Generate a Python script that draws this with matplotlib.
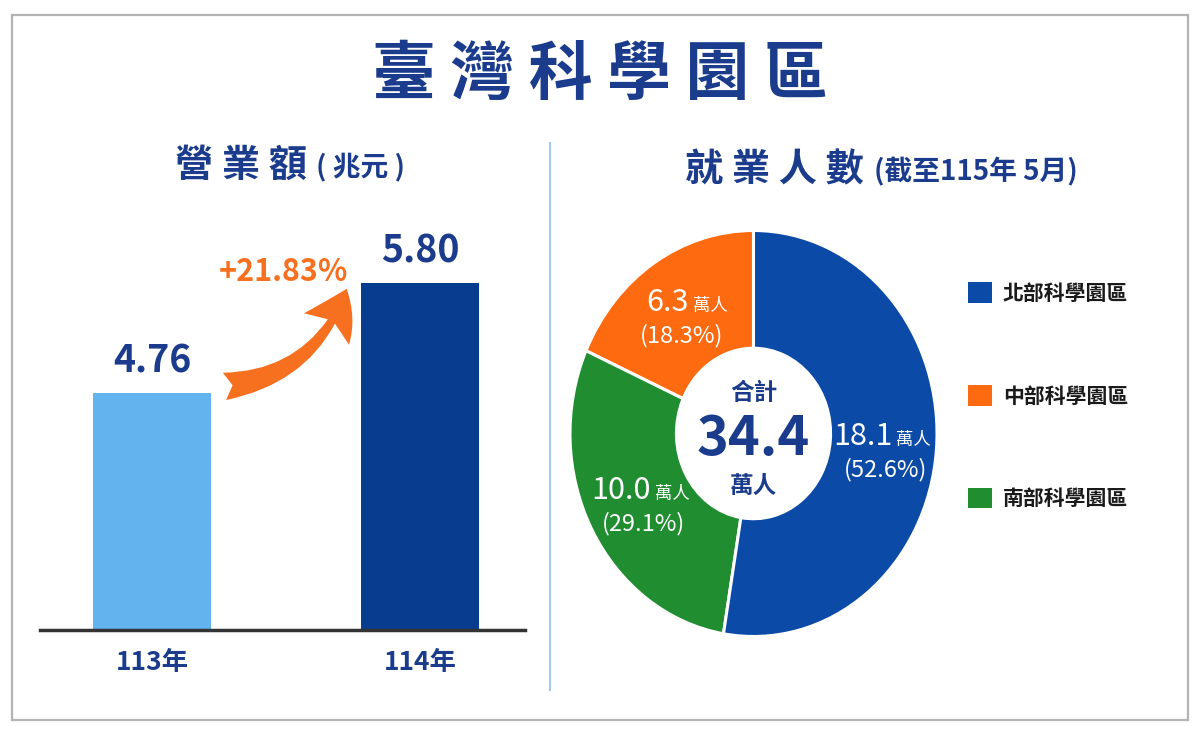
import matplotlib
matplotlib.use('Agg')
import numpy as np
import matplotlib.pyplot as plt
from matplotlib.patches import Patch, Rectangle, FancyArrowPatch
from matplotlib.lines import Line2D

plt.rcParams['font.family'] = ['Noto Sans CJK TC', 'DejaVu Sans']

# Revenue (trillion NTD)
years = ['113年', '114年']
revenue = [4.76, 5.80]
growth_pct = 21.83

# Employment by park (10k people)
parks = ['北部科學園區', '中部科學園區', '南部科學園區']
workers = [18.1, 6.3, 10.0]

NAVY = '#1b3c8c'
bar_colors = ['#63b4ee', '#083c8f']
park_colors = ['#0b4aa6', '#fd6a10', '#1f8d30']
ORANGE = '#f7701f'

fig = plt.figure(figsize=(12, 7.36), dpi=100)
fig.patch.set_facecolor('white')

def fx(px):
    return px / 1200

def fy(py):
    return 1 - py / 736

# outer frame and separator
fig.add_artist(Rectangle((fx(12), fy(720)), fx(1176), 705 / 736, transform=fig.transFigure,
                         fill=False, edgecolor='#b4b4b4', lw=1.6))
fig.add_artist(Line2D([fx(550), fx(550)], [fy(143), fy(690)], transform=fig.transFigure,
                      color='#a9c9ea', lw=1.5))

# titles
fig.text(0.5, fy(75), ' '.join('臺灣科學園區'), ha='center', va='center',
         fontsize=46, fontweight='bold', color=NAVY)
fig.text(fx(175), fy(165), ' '.join('營業額'), ha='left', va='center',
         fontsize=27.5, fontweight='bold', color=NAVY)
fig.text(fx(316), fy(167), '( 兆元 )', ha='left', va='center',
         fontsize=20, fontweight='bold', color=NAVY)
fig.text(fx(685), fy(170), ' '.join('就業人數'), ha='left', va='center',
         fontsize=27.5, fontweight='bold', color=NAVY)
fig.text(fx(874), fy(172), '(截至115年 5月)', ha='left', va='center',
         fontsize=20, fontweight='bold', color=NAVY)

# ---- bar chart ----
ax = fig.add_axes([fx(40), fy(630), fx(485), (630 - 209) / 736])
x = list(range(len(years)))
ax.bar(x, revenue, width=0.44, color=bar_colors, zorder=2)
ax.set_ylim(2.52, 6.5)
ax.set_xlim(-0.418, 1.392)
for s in ['top', 'right', 'left']:
    ax.spines[s].set_visible(False)
ax.spines['bottom'].set_color('#333333')
ax.spines['bottom'].set_linewidth(2.5)
ax.spines['bottom'].set_zorder(3)
ax.set_yticks([])
ax.set_xticks(x)
ax.set_xticklabels(years, fontsize=19, fontweight='bold', color=NAVY)
ax.tick_params(axis='x', length=0, pad=14)
ax.set_facecolor('none')

for xi, v in zip(x, revenue):
    ax.annotate(f'{v:.2f}', (xi, v), xytext=(0, 9), textcoords='offset points',
                ha='center', va='bottom', fontsize=27, fontweight='bold', color=NAVY)

arrow = FancyArrowPatch((x[0] + 0.26, revenue[0] + 0.06), (x[1] - 0.27, revenue[1] - 0.03),
                        connectionstyle='arc3,rad=0.32',
                        arrowstyle='fancy,head_length=0.9,head_width=1.1,tail_width=0.55',
                        mutation_scale=36, color=ORANGE, lw=0, zorder=4)
ax.add_patch(arrow)
ax.text(0.489, 5.90, f'+{growth_pct:.2f}%', ha='center', va='center',
        fontsize=22, fontweight='bold', color=ORANGE)

# ---- donut ----
pax = fig.add_axes([fx(570), fy(636.5), fx(367), 406 / 736])
order = [1, 2, 0]  # central, south, north drawn counter-clockwise from top
vals = [workers[i] for i in order]
cols = [park_colors[i] for i in order]
wedges, _ = pax.pie(vals, colors=cols, startangle=90, counterclock=True, radius=1,
                    wedgeprops=dict(width=0.58, edgecolor='white', linewidth=2.2))
pax.set_xlim(-1, 1)
pax.set_ylim(-1, 1)
pax.set_aspect('auto')

total = sum(workers)
label_r = [0.72, 0.68, 0.72]
for w, i, r in zip(wedges, order, label_r):
    ang = np.deg2rad((w.theta1 + w.theta2) / 2)
    cx, cy = r * np.cos(ang), r * np.sin(ang)
    pax.text(cx + 0.04, cy, f'{workers[i]:.1f}', ha='right', va='baseline',
             fontsize=22, fontweight='medium', color='white')
    pax.text(cx + 0.06, cy, '萬人', ha='left', va='baseline',
             fontsize=12.5, fontweight='medium', color='white')
    pax.text(cx, cy - 0.12, f'({workers[i] / total * 100:.1f}%)', ha='center', va='center',
             fontsize=17, fontweight='medium', color='white')

pax.text(0, 0.20, '合計', ha='center', va='center', fontsize=17, fontweight='bold', color=NAVY)
pax.text(0, -0.03, f'{total:.1f}', ha='center', va='center', fontsize=39, fontweight='bold', color=NAVY)
pax.text(0, -0.26, '萬人', ha='center', va='center', fontsize=17, fontweight='bold', color=NAVY)

# legend
handles = [Patch(facecolor=c, edgecolor='none') for c in park_colors]
leg = fig.legend(handles, parks, loc='upper left', bbox_to_anchor=(fx(958), fy(272)),
                 frameon=False, fontsize=15, labelspacing=3.9, handlelength=1.15,
                 handleheight=1.15, handletextpad=0.5, borderpad=0)
for t in leg.get_texts():
    t.set_fontweight('bold')
    t.set_color('#1a1a1a')

fig.savefig('out.png', dpi=100, facecolor='white')
